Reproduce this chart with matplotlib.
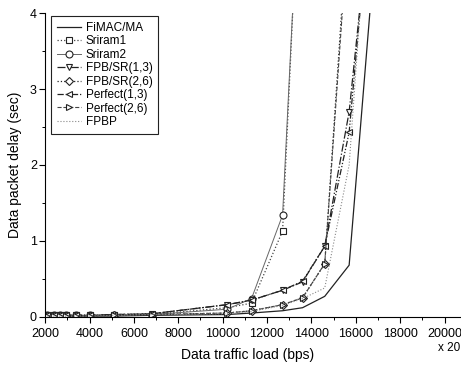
import numpy as np
import matplotlib.pyplot as plt
from matplotlib.ticker import MultipleLocator

plt.rcParams['font.family'] = ['Liberation Sans', 'DejaVu Sans']

# traffic load (bps, before the x20 factor)
load = [2100, 2400, 2650, 2950, 3400, 4000, 5100, 6800,
        10200, 11300, 12700, 13600, 14600, 15700, 16800]
nan = np.nan

fimac = [0.01, 0.01, 0.01, 0.01, 0.01, 0.01, 0.01, 0.02,
         0.03, 0.05, 0.08, 0.12, 0.27, 0.68, 4.6]
sriram1 = [0.02, 0.02, 0.02, 0.02, 0.02, 0.02, 0.02, 0.03,
           0.12, 0.18, 1.13, 6.8, nan, nan, nan]
sriram2 = [0.02, 0.02, 0.02, 0.02, 0.02, 0.02, 0.02, 0.03,
           0.10, 0.24, 1.34, 6.7, nan, nan, nan]
fpb13 = [0.02, 0.02, 0.02, 0.02, 0.02, 0.02, 0.03, 0.04,
         0.16, 0.22, 0.35, 0.46, 0.93, 2.70, 5.8]
fpb26 = [0.01, 0.01, 0.01, 0.01, 0.01, 0.01, 0.02, 0.03,
         0.05, 0.08, 0.16, 0.25, 0.70, 5.5, nan]
perf13 = [0.02, 0.02, 0.02, 0.02, 0.02, 0.02, 0.03, 0.04,
          0.16, 0.22, 0.35, 0.47, 0.93, 2.43, 6.0]
perf26 = [0.01, 0.01, 0.01, 0.01, 0.01, 0.01, 0.02, 0.03,
          0.05, 0.08, 0.16, 0.25, 0.70, 5.3, nan]
fpbp = [0.01, 0.01, 0.01, 0.01, 0.01, 0.01, 0.02, 0.03,
        0.04, 0.07, 0.15, 0.24, 0.38, 2.0, 6.5]

fig = plt.figure(figsize=(4.61, 3.65), dpi=100)
ax = fig.add_axes([0.098, 0.132, 0.900, 0.832])

mk = dict(markersize=5, markerfacecolor='white', markeredgecolor='#222222',
          markeredgewidth=0.8)

ax.plot(load, fimac, '-', color='#222222', lw=0.9, label='FiMAC/MA')
ax.plot(load, sriram1, ':', color='#444444', lw=0.9, marker='s', label='Sriram1', **mk)
ax.plot(load, sriram2, '-', color='#666666', lw=0.7, marker='o', label='Sriram2', **mk)
ax.plot(load, fpb13, '-.', color='#222222', lw=0.9, marker='v', label='FPB/SR(1,3)', **mk)
ax.plot(load, fpb26, ':', color='#222222', lw=0.9, marker='D', label='FPB/SR(2,6)',
        **dict(mk, markersize=4.5))
ax.plot(load, perf13, color='#222222', lw=0.9, ls=(0, (5, 1.5, 1, 1.5, 1, 1.5)),
        marker='<', label='Perfect(1,3)', **mk)
ax.plot(load, perf26, '--', color='#444444', lw=0.8, marker='>', label='Perfect(2,6)', **mk)
ax.plot(load, fpbp, ':', color='#888888', lw=0.8, label='FPBP')

ax.set_xlim(2000, 20700)
ax.set_ylim(0, 4)
ax.xaxis.set_major_locator(MultipleLocator(2000))
ax.xaxis.set_minor_locator(MultipleLocator(1000))
ax.yaxis.set_major_locator(MultipleLocator(1))
ax.yaxis.set_minor_locator(MultipleLocator(0.5))
ax.tick_params(which='major', direction='out', length=4, width=0.8, labelsize=9)
ax.tick_params(axis='x', which='major', pad=4)
ax.tick_params(axis='y', which='major', pad=2)
ax.tick_params(which='minor', direction='out', length=2.5, width=0.7)
ax.spines['top'].set_visible(False)
ax.spines['right'].set_visible(False)

ax.set_xlabel('Data traffic load (bps)', fontsize=10)
ax.xaxis.set_label_coords(0.487, -0.103)
ax.set_ylabel('Data packet delay (sec)', fontsize=10, labelpad=6)
fig.text(0.998, 0.047, 'x 20', ha='right', va='center', fontsize=8.5)

leg = ax.legend(loc='upper left', bbox_to_anchor=(0.015, 0.99), borderaxespad=0,
                fontsize=8.5, fancybox=False, edgecolor='#222222', framealpha=1,
                labelspacing=0.12, handlelength=2.0, handletextpad=0.4,
                borderpad=0.5)
leg.get_frame().set_linewidth(0.8)

fig.savefig('out.png', dpi=100)
